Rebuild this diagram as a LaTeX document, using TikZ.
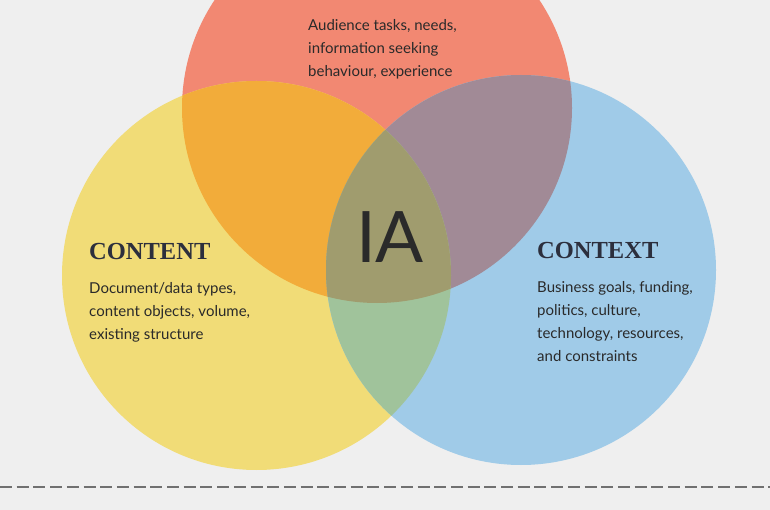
\documentclass[tikz,border=0pt]{standalone}
\usepackage{fontspec}
\setmainfont{Lato}
\newfontfamily\latofont{Lato}
\newfontfamily\headfont{Liberation Serif}
\definecolor{bgc}{HTML}{EFEFEF}
\definecolor{redc}{HTML}{F28872}
\definecolor{yelc}{HTML}{F1DC77}
\definecolor{bluc}{HTML}{A0CBE8}
\definecolor{orac}{HTML}{F2AC3A}
\definecolor{mauc}{HTML}{A18A96}
\definecolor{grec}{HTML}{A0C39B}
\definecolor{olic}{HTML}{A09C6E}
\definecolor{txtc}{HTML}{2A2A2A}
\definecolor{headc}{HTML}{2C2F3D}
\definecolor{dashc}{HTML}{707070}
\begin{document}
\begin{tikzpicture}[x=1pt,y=-1pt,
  bodytext/.style={font=\latofont\fontsize{15}{23}\selectfont, text=txtc, align=left, anchor=base west, inner sep=0pt},
  headtext/.style={font=\headfont\bfseries\fontsize{24.5}{28}\selectfont, text=headc, anchor=base west, inner sep=0pt},
  iatext/.style={font=\latofont\fontsize{71}{80}\selectfont, text=txtc, anchor=base, inner sep=0pt},
  sepline/.style={draw=dashc, line width=2pt, dash pattern=on 12pt off 4.7pt}]
\useasboundingbox (0,0) rectangle (770,510);
\fill[bgc] (0,0) rectangle (770,510);
\def\circR{(377,108) circle[radius=195pt]}
\def\circY{(256.5,275.5) circle[radius=194.5pt]}
\def\circB{(521,270) circle[radius=195pt]}
\begin{scope}
\clip (0,0) rectangle (770,510);
\fill[redc] \circR;
\fill[yelc] \circY;
\fill[bluc] \circB;
\begin{scope}\clip \circR; \fill[orac] \circY; \end{scope}
\begin{scope}\clip \circR; \fill[mauc] \circB; \end{scope}
\begin{scope}\clip \circY; \fill[grec] \circB; \end{scope}
\begin{scope}\clip \circR; \clip \circY; \fill[olic] \circB; \end{scope}
\end{scope}
% anchor base = baseline of the last line
\node[bodytext] (audience) at (308,77) {Audience tasks, needs,\\information seeking\\behaviour, experience};
\node[headtext] (content) at (89,260) {CONTENT};
\node[bodytext] (contentbody) at (89,339) {Document/data types,\\content objects, volume,\\existing structure};
\node[headtext] (context) at (537,259) {CONTEXT};
\node[bodytext] (contextbody) at (537,361) {Business goals, funding,\\politics, culture,\\technology, resources,\\and constraints};
\node[iatext] (ia) at (390,263) {IA};
\coordinate (sepL) at (0,487);
\coordinate (sepR) at (770,487);
\draw[sepline] (sepL) -- (sepR);
\end{tikzpicture}
\end{document}
